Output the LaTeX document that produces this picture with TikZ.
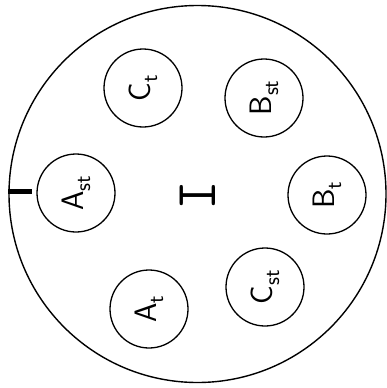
\documentclass[tikz,border=0pt]{standalone}
\newcommand{\sbs}[1]{\raisebox{-7pt}{\fontsize{22}{24}\selectfont #1}}
\begin{document}
\begin{tikzpicture}[x=1pt,y=-1pt,
  cell/.style={draw, circle, line width=1.3pt, minimum size=78pt, inner sep=0pt},
  lab/.style={rotate=90, font=\fontsize{31}{34}\selectfont\sffamily}]
\useasboundingbox (0,0) rectangle (387,388);
\node[draw, circle, line width=1.4pt, minimum size=377pt, inner sep=0pt] (outer) at (197.5,194) {};
\node[cell] (Ast) at (76,193) {};
\node[lab] at (Ast) {A\sbs{st}};
\node[cell] (Ct) at (143,88) {};
\node[lab] at (Ct) {C\sbs{t}};
\node[cell] (Bst) at (264,98) {};
\node[lab] at (Bst) {B\sbs{st}};
\node[cell] (Bt) at (327,195) {};
\node[lab] at (Bt) {B\sbs{t}};
\node[cell] (Cst) at (265,287) {};
\node[lab] at (Cst) {C\sbs{st}};
\node[cell] (At) at (149,309) {};
\node[lab] at (At) {A\sbs{t}};
\node[rotate=90, font=\fontsize{58}{62}\selectfont\ttfamily] (I) at (198,196) {I};
\coordinate (tickend) at (32,191);
\draw[line width=5pt] (outer.west |- tickend) -- (tickend);
\end{tikzpicture}
\end{document}
